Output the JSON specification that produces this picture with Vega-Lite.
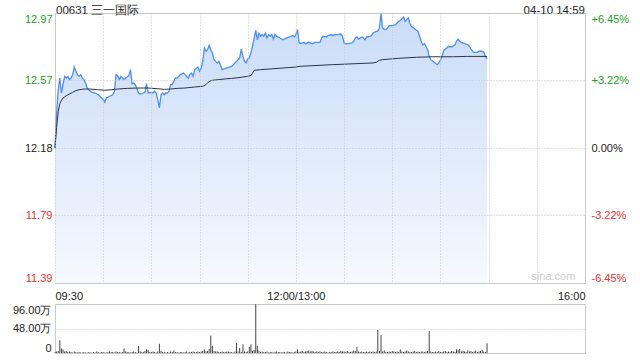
{
  "$schema": "https://vega.github.io/schema/vega-lite/v6.json",
  "background": "white",
  "padding": {"left": 11, "top": 4, "right": 5, "bottom": 0},
  "spacing": 1,
  "config": {
    "font": "Liberation Sans",
    "view": {"stroke": "#cccccc", "strokeWidth": 1},
    "axis": {"domain": false, "ticks": false, "labelFontSize": 11, "labelColor": "#333333", "gridColor": "#c4c4c4", "gridDash": [1, 2], "labelFont": "Liberation Sans"}
  },
  "datasets": {
    "price": [
      {"t": 0, "p": 12.18}, {"t": 1, "p": 12.384}, {"t": 2, "p": 12.519}, {"t": 3, "p": 12.587}, {"t": 4, "p": 12.5}, {"t": 5, "p": 12.549}, {"t": 6, "p": 12.597}, {"t": 7, "p": 12.587}, {"t": 8, "p": 12.597}, {"t": 9, "p": 12.578},
      {"t": 10, "p": 12.587}, {"t": 11, "p": 12.607}, {"t": 12, "p": 12.651}, {"t": 13, "p": 12.626}, {"t": 14, "p": 12.607}, {"t": 15, "p": 12.597}, {"t": 16, "p": 12.607}, {"t": 17, "p": 12.587}, {"t": 18, "p": 12.578}, {"t": 19, "p": 12.558},
      {"t": 20, "p": 12.529}, {"t": 21, "p": 12.519}, {"t": 22, "p": 12.51}, {"t": 23, "p": 12.504}, {"t": 25, "p": 12.5}, {"t": 27, "p": 12.49}, {"t": 29, "p": 12.471}, {"t": 30, "p": 12.461}, {"t": 31, "p": 12.446}, {"t": 32, "p": 12.471},
      {"t": 34, "p": 12.481}, {"t": 36, "p": 12.49}, {"t": 37, "p": 12.51}, {"t": 38, "p": 12.607}, {"t": 39, "p": 12.601}, {"t": 40, "p": 12.578}, {"t": 41, "p": 12.597}, {"t": 43, "p": 12.578}, {"t": 44, "p": 12.587}, {"t": 46, "p": 12.601},
      {"t": 47, "p": 12.636}, {"t": 48, "p": 12.554}, {"t": 49, "p": 12.558}, {"t": 50, "p": 12.549}, {"t": 52, "p": 12.5}, {"t": 53, "p": 12.494}, {"t": 55, "p": 12.5}, {"t": 56, "p": 12.504}, {"t": 57, "p": 12.554}, {"t": 58, "p": 12.5},
      {"t": 60, "p": 12.504}, {"t": 61, "p": 12.5}, {"t": 62, "p": 12.51}, {"t": 63, "p": 12.5}, {"t": 64, "p": 12.461}, {"t": 65, "p": 12.413}, {"t": 66, "p": 12.49}, {"t": 67, "p": 12.5}, {"t": 68, "p": 12.49}, {"t": 69, "p": 12.5},
      {"t": 70, "p": 12.5}, {"t": 71, "p": 12.51}, {"t": 72, "p": 12.549}, {"t": 73, "p": 12.549}, {"t": 74, "p": 12.568}, {"t": 75, "p": 12.587}, {"t": 76, "p": 12.587}, {"t": 77, "p": 12.597}, {"t": 78, "p": 12.607}, {"t": 80, "p": 12.616},
      {"t": 81, "p": 12.607}, {"t": 82, "p": 12.597}, {"t": 83, "p": 12.587}, {"t": 84, "p": 12.607}, {"t": 85, "p": 12.616}, {"t": 86, "p": 12.597}, {"t": 87, "p": 12.636}, {"t": 89, "p": 12.651}, {"t": 90, "p": 12.626}, {"t": 91, "p": 12.646},
      {"t": 92, "p": 12.684}, {"t": 93, "p": 12.762}, {"t": 94, "p": 12.743}, {"t": 95, "p": 12.752}, {"t": 96, "p": 12.777}, {"t": 97, "p": 12.752}, {"t": 98, "p": 12.733}, {"t": 99, "p": 12.694}, {"t": 100, "p": 12.684}, {"t": 101, "p": 12.675},
      {"t": 102, "p": 12.684}, {"t": 103, "p": 12.665}, {"t": 104, "p": 12.636}, {"t": 105, "p": 12.64}, {"t": 107, "p": 12.646}, {"t": 110, "p": 12.655}, {"t": 111, "p": 12.665}, {"t": 112, "p": 12.675}, {"t": 114, "p": 12.694}, {"t": 115, "p": 12.704},
      {"t": 116, "p": 12.756}, {"t": 117, "p": 12.713}, {"t": 118, "p": 12.684}, {"t": 119, "p": 12.675}, {"t": 120, "p": 12.698}, {"t": 121, "p": 12.704}, {"t": 122, "p": 12.733}, {"t": 123, "p": 12.772}, {"t": 124, "p": 12.82}, {"t": 125, "p": 12.865},
      {"t": 126, "p": 12.81}, {"t": 127, "p": 12.849}, {"t": 128, "p": 12.83}, {"t": 129, "p": 12.84}, {"t": 130, "p": 12.83}, {"t": 131, "p": 12.849}, {"t": 132, "p": 12.82}, {"t": 133, "p": 12.84}, {"t": 134, "p": 12.83}, {"t": 135, "p": 12.84},
      {"t": 136, "p": 12.814}, {"t": 137, "p": 12.84}, {"t": 138, "p": 12.83}, {"t": 140, "p": 12.82}, {"t": 142, "p": 12.81}, {"t": 144, "p": 12.82}, {"t": 146, "p": 12.826}, {"t": 148, "p": 12.834}, {"t": 149, "p": 12.826}, {"t": 150, "p": 12.84},
      {"t": 151, "p": 12.869}, {"t": 152, "p": 12.795}, {"t": 153, "p": 12.787}, {"t": 155, "p": 12.795}, {"t": 156, "p": 12.787}, {"t": 158, "p": 12.795}, {"t": 160, "p": 12.787}, {"t": 162, "p": 12.795}, {"t": 165, "p": 12.795}, {"t": 166, "p": 12.82},
      {"t": 167, "p": 12.83}, {"t": 169, "p": 12.826}, {"t": 170, "p": 12.834}, {"t": 172, "p": 12.84}, {"t": 173, "p": 12.834}, {"t": 174, "p": 12.84}, {"t": 176, "p": 12.84}, {"t": 178, "p": 12.843}, {"t": 179, "p": 12.83}, {"t": 180, "p": 12.791},
      {"t": 181, "p": 12.787}, {"t": 183, "p": 12.787}, {"t": 185, "p": 12.791}, {"t": 186, "p": 12.801}, {"t": 187, "p": 12.82}, {"t": 188, "p": 12.826}, {"t": 189, "p": 12.814}, {"t": 191, "p": 12.826}, {"t": 192, "p": 12.82}, {"t": 193, "p": 12.81},
      {"t": 194, "p": 12.826}, {"t": 195, "p": 12.826}, {"t": 196, "p": 12.83}, {"t": 197, "p": 12.834}, {"t": 198, "p": 12.849}, {"t": 200, "p": 12.859}, {"t": 201, "p": 12.859}, {"t": 202, "p": 12.878}, {"t": 203, "p": 12.962}, {"t": 204, "p": 12.878},
      {"t": 205, "p": 12.872}, {"t": 206, "p": 12.869}, {"t": 207, "p": 12.878}, {"t": 208, "p": 12.892}, {"t": 210, "p": 12.892}, {"t": 212, "p": 12.898}, {"t": 213, "p": 12.907}, {"t": 214, "p": 12.917}, {"t": 215, "p": 12.923}, {"t": 216, "p": 12.931},
      {"t": 217, "p": 12.942}, {"t": 218, "p": 12.917}, {"t": 219, "p": 12.927}, {"t": 220, "p": 12.937}, {"t": 221, "p": 12.903}, {"t": 222, "p": 12.888}, {"t": 224, "p": 12.872}, {"t": 225, "p": 12.865}, {"t": 226, "p": 12.859}, {"t": 227, "p": 12.83},
      {"t": 228, "p": 12.801}, {"t": 229, "p": 12.781}, {"t": 230, "p": 12.787}, {"t": 231, "p": 12.772}, {"t": 232, "p": 12.752}, {"t": 233, "p": 12.713}, {"t": 234, "p": 12.694}, {"t": 235, "p": 12.688}, {"t": 236, "p": 12.679}, {"t": 238, "p": 12.665},
      {"t": 239, "p": 12.675}, {"t": 240, "p": 12.694}, {"t": 241, "p": 12.713}, {"t": 242, "p": 12.748}, {"t": 244, "p": 12.762}, {"t": 245, "p": 12.772}, {"t": 247, "p": 12.768}, {"t": 249, "p": 12.781}, {"t": 250, "p": 12.801}, {"t": 251, "p": 12.814},
      {"t": 252, "p": 12.801}, {"t": 253, "p": 12.795}, {"t": 255, "p": 12.787}, {"t": 257, "p": 12.781}, {"t": 258, "p": 12.772}, {"t": 259, "p": 12.756}, {"t": 260, "p": 12.743}, {"t": 261, "p": 12.737}, {"t": 263, "p": 12.737}, {"t": 264, "p": 12.743},
      {"t": 266, "p": 12.743}, {"t": 267, "p": 12.737}, {"t": 268, "p": 12.713}, {"t": 269, "p": 12.698}
    ],
    "avg": [
      {"t": 0, "a": 12.18}, {"t": 1, "a": 12.3}, {"t": 2, "a": 12.39}, {"t": 3, "a": 12.438}, {"t": 4, "a": 12.457}, {"t": 5, "a": 12.471}, {"t": 7, "a": 12.484}, {"t": 9, "a": 12.494}, {"t": 11, "a": 12.504}, {"t": 13, "a": 12.514},
      {"t": 15, "a": 12.519}, {"t": 18, "a": 12.523}, {"t": 22, "a": 12.523}, {"t": 27, "a": 12.519}, {"t": 31, "a": 12.516}, {"t": 35, "a": 12.519}, {"t": 39, "a": 12.523}, {"t": 45, "a": 12.527}, {"t": 51, "a": 12.529}, {"t": 58, "a": 12.529},
      {"t": 64, "a": 12.525}, {"t": 68, "a": 12.521}, {"t": 72, "a": 12.523}, {"t": 76, "a": 12.527}, {"t": 81, "a": 12.529}, {"t": 87, "a": 12.535}, {"t": 92, "a": 12.539}, {"t": 94, "a": 12.549}, {"t": 96, "a": 12.568}, {"t": 98, "a": 12.574},
      {"t": 102, "a": 12.578}, {"t": 106, "a": 12.582}, {"t": 110, "a": 12.585}, {"t": 114, "a": 12.589}, {"t": 120, "a": 12.597}, {"t": 122, "a": 12.601}, {"t": 123, "a": 12.616}, {"t": 124, "a": 12.632}, {"t": 128, "a": 12.636}, {"t": 134, "a": 12.64},
      {"t": 150, "a": 12.651}, {"t": 152, "a": 12.655}, {"t": 173, "a": 12.665}, {"t": 198, "a": 12.675}, {"t": 200, "a": 12.679}, {"t": 202, "a": 12.69}, {"t": 204, "a": 12.694}, {"t": 214, "a": 12.702}, {"t": 225, "a": 12.708}, {"t": 235, "a": 12.711},
      {"t": 248, "a": 12.711}, {"t": 256, "a": 12.713}, {"t": 269, "a": 12.713}
    ],
    "vol": [
      {"t": 0, "v": 2}, {"t": 1, "v": 3}, {"t": 2, "v": 4}, {"t": 3, "v": 25}, {"t": 4, "v": 9}, {"t": 5, "v": 7}, {"t": 6, "v": 3}, {"t": 7, "v": 4}, {"t": 8, "v": 2}, {"t": 9, "v": 3},
      {"t": 10, "v": 2}, {"t": 11, "v": 1}, {"t": 12, "v": 3}, {"t": 13, "v": 2}, {"t": 14, "v": 1}, {"t": 15, "v": 2}, {"t": 16, "v": 1}, {"t": 17, "v": 1}, {"t": 18, "v": 2}, {"t": 19, "v": 1},
      {"t": 20, "v": 1}, {"t": 21, "v": 2}, {"t": 22, "v": 1}, {"t": 23, "v": 1}, {"t": 24, "v": 2}, {"t": 25, "v": 1}, {"t": 26, "v": 3}, {"t": 27, "v": 2}, {"t": 28, "v": 1}, {"t": 29, "v": 2},
      {"t": 30, "v": 2}, {"t": 31, "v": 1}, {"t": 32, "v": 1}, {"t": 33, "v": 2}, {"t": 34, "v": 3}, {"t": 35, "v": 2}, {"t": 36, "v": 2}, {"t": 37, "v": 1}, {"t": 38, "v": 3}, {"t": 39, "v": 2},
      {"t": 40, "v": 2}, {"t": 41, "v": 1}, {"t": 42, "v": 2}, {"t": 43, "v": 9}, {"t": 44, "v": 3}, {"t": 45, "v": 2}, {"t": 46, "v": 2}, {"t": 47, "v": 1}, {"t": 48, "v": 2}, {"t": 49, "v": 3},
      {"t": 50, "v": 2}, {"t": 51, "v": 1}, {"t": 52, "v": 14}, {"t": 53, "v": 3}, {"t": 54, "v": 2}, {"t": 55, "v": 2}, {"t": 56, "v": 4}, {"t": 57, "v": 7}, {"t": 58, "v": 6}, {"t": 59, "v": 2},
      {"t": 60, "v": 2}, {"t": 61, "v": 3}, {"t": 62, "v": 2}, {"t": 63, "v": 1}, {"t": 64, "v": 3}, {"t": 65, "v": 18}, {"t": 66, "v": 4}, {"t": 67, "v": 2}, {"t": 68, "v": 2}, {"t": 69, "v": 1},
      {"t": 70, "v": 2}, {"t": 71, "v": 1}, {"t": 72, "v": 3}, {"t": 73, "v": 2}, {"t": 74, "v": 5}, {"t": 75, "v": 2}, {"t": 76, "v": 2}, {"t": 77, "v": 1}, {"t": 78, "v": 2}, {"t": 79, "v": 2},
      {"t": 80, "v": 1}, {"t": 81, "v": 2}, {"t": 82, "v": 3}, {"t": 83, "v": 1}, {"t": 84, "v": 2}, {"t": 85, "v": 2}, {"t": 86, "v": 3}, {"t": 87, "v": 2}, {"t": 88, "v": 2}, {"t": 89, "v": 3},
      {"t": 90, "v": 2}, {"t": 91, "v": 3}, {"t": 92, "v": 4}, {"t": 93, "v": 7}, {"t": 94, "v": 3}, {"t": 95, "v": 4}, {"t": 96, "v": 8}, {"t": 97, "v": 34}, {"t": 98, "v": 14}, {"t": 99, "v": 4},
      {"t": 100, "v": 3}, {"t": 101, "v": 3}, {"t": 102, "v": 2}, {"t": 103, "v": 2}, {"t": 104, "v": 3}, {"t": 105, "v": 2}, {"t": 106, "v": 2}, {"t": 107, "v": 3}, {"t": 108, "v": 3}, {"t": 109, "v": 2},
      {"t": 110, "v": 2}, {"t": 111, "v": 1}, {"t": 112, "v": 3}, {"t": 113, "v": 20}, {"t": 114, "v": 3}, {"t": 115, "v": 10}, {"t": 116, "v": 2}, {"t": 117, "v": 17}, {"t": 118, "v": 3}, {"t": 119, "v": 2},
      {"t": 120, "v": 3}, {"t": 121, "v": 12}, {"t": 122, "v": 17}, {"t": 123, "v": 4}, {"t": 124, "v": 6}, {"t": 125, "v": 96}, {"t": 126, "v": 14}, {"t": 127, "v": 5}, {"t": 128, "v": 2}, {"t": 129, "v": 3},
      {"t": 130, "v": 2}, {"t": 131, "v": 2}, {"t": 132, "v": 3}, {"t": 133, "v": 1}, {"t": 134, "v": 2}, {"t": 135, "v": 2}, {"t": 136, "v": 1}, {"t": 137, "v": 2}, {"t": 138, "v": 3}, {"t": 139, "v": 2},
      {"t": 140, "v": 2}, {"t": 141, "v": 1}, {"t": 142, "v": 2}, {"t": 143, "v": 2}, {"t": 144, "v": 1}, {"t": 145, "v": 3}, {"t": 146, "v": 2}, {"t": 147, "v": 2}, {"t": 148, "v": 1}, {"t": 149, "v": 2},
      {"t": 150, "v": 3}, {"t": 151, "v": 7}, {"t": 152, "v": 2}, {"t": 153, "v": 3}, {"t": 154, "v": 4}, {"t": 155, "v": 2}, {"t": 156, "v": 3}, {"t": 157, "v": 4}, {"t": 158, "v": 5}, {"t": 159, "v": 3},
      {"t": 160, "v": 4}, {"t": 161, "v": 3}, {"t": 162, "v": 2}, {"t": 163, "v": 3}, {"t": 164, "v": 2}, {"t": 165, "v": 3}, {"t": 166, "v": 2}, {"t": 167, "v": 2}, {"t": 168, "v": 3}, {"t": 169, "v": 2},
      {"t": 170, "v": 1}, {"t": 171, "v": 2}, {"t": 172, "v": 2}, {"t": 173, "v": 3}, {"t": 174, "v": 2}, {"t": 175, "v": 2}, {"t": 176, "v": 3}, {"t": 177, "v": 2}, {"t": 178, "v": 4}, {"t": 179, "v": 3},
      {"t": 180, "v": 3}, {"t": 181, "v": 2}, {"t": 182, "v": 4}, {"t": 183, "v": 2}, {"t": 184, "v": 2}, {"t": 185, "v": 3}, {"t": 186, "v": 5}, {"t": 187, "v": 4}, {"t": 188, "v": 12}, {"t": 189, "v": 3},
      {"t": 190, "v": 2}, {"t": 191, "v": 3}, {"t": 192, "v": 2}, {"t": 193, "v": 2}, {"t": 194, "v": 3}, {"t": 195, "v": 2}, {"t": 196, "v": 3}, {"t": 197, "v": 2}, {"t": 198, "v": 3}, {"t": 199, "v": 2},
      {"t": 200, "v": 3}, {"t": 201, "v": 45}, {"t": 202, "v": 4}, {"t": 203, "v": 35}, {"t": 204, "v": 3}, {"t": 205, "v": 5}, {"t": 206, "v": 2}, {"t": 207, "v": 2}, {"t": 208, "v": 3}, {"t": 209, "v": 2},
      {"t": 210, "v": 4}, {"t": 211, "v": 3}, {"t": 212, "v": 2}, {"t": 213, "v": 3}, {"t": 214, "v": 2}, {"t": 215, "v": 7}, {"t": 216, "v": 3}, {"t": 217, "v": 2}, {"t": 218, "v": 3}, {"t": 219, "v": 5},
      {"t": 220, "v": 3}, {"t": 221, "v": 2}, {"t": 222, "v": 2}, {"t": 223, "v": 3}, {"t": 224, "v": 4}, {"t": 225, "v": 2}, {"t": 226, "v": 3}, {"t": 227, "v": 2}, {"t": 228, "v": 3}, {"t": 229, "v": 3},
      {"t": 230, "v": 2}, {"t": 231, "v": 3}, {"t": 232, "v": 4}, {"t": 233, "v": 43}, {"t": 234, "v": 3}, {"t": 235, "v": 2}, {"t": 236, "v": 2}, {"t": 237, "v": 3}, {"t": 238, "v": 2}, {"t": 239, "v": 4},
      {"t": 240, "v": 2}, {"t": 241, "v": 2}, {"t": 242, "v": 3}, {"t": 243, "v": 4}, {"t": 244, "v": 2}, {"t": 245, "v": 3}, {"t": 246, "v": 2}, {"t": 247, "v": 4}, {"t": 248, "v": 3}, {"t": 249, "v": 2},
      {"t": 250, "v": 7}, {"t": 251, "v": 6}, {"t": 252, "v": 8}, {"t": 253, "v": 3}, {"t": 254, "v": 4}, {"t": 255, "v": 3}, {"t": 256, "v": 2}, {"t": 257, "v": 5}, {"t": 258, "v": 3}, {"t": 259, "v": 4},
      {"t": 260, "v": 2}, {"t": 261, "v": 3}, {"t": 262, "v": 5}, {"t": 263, "v": 2}, {"t": 264, "v": 3}, {"t": 265, "v": 4}, {"t": 266, "v": 6}, {"t": 267, "v": 3}, {"t": 268, "v": 2}, {"t": 269, "v": 19}
    ]
  },
  "vconcat": [
    {
      "width": 530,
      "height": 270,
      "resolve": {"scale": {"y": "independent"}},
      "layer": [
        {
          "data": {"name": "price"},
          "mark": {"type": "area", "line": false, "color": {"x1": 0, "y1": 0, "x2": 0, "y2": 1, "gradient": "linear", "stops": [{"offset": 0, "color": "#c9dcf8"}, {"offset": 1, "color": "#f6f9fe"}]}},
          "encoding": {
            "x": {"field": "t", "type": "quantitative", "title": null, "scale": {"domain": [0, 330], "nice": false, "zero": false},
              "axis": {"values": [0, 30, 60, 90, 120, 150, 180, 210, 240, 270, 300, 330], "grid": true, "zindex": 1, "labelFlush": true, "labelOverlap": false, "labelPadding": 7, "labelColor": "#222222",
                "labelExpr": "datum.value == 0 ? '09:30' : datum.value == 150 ? '12:00/13:00' : datum.value == 330 ? '16:00' : ''"}},
            "y": {"field": "p", "type": "quantitative", "title": null, "scale": {"domain": [11.3944, 12.9656], "nice": false, "zero": false},
              "axis": {"orient": "left", "values": [11.3944, 11.7872, 12.18, 12.5728, 12.9656], "grid": true, "zindex": 1, "labelFlush": true, "labelPadding": 3,
                "labelExpr": "format(datum.value, '.2f')",
                "labelColor": {"condition": [{"test": "datum.value > 12.19", "value": "#1aa31a"}, {"test": "datum.value < 12.17", "value": "#f23030"}], "value": "#222222"}}},
            "y2": {"datum": 11.3944}
          }
        },
        {
          "data": {"name": "price"},
          "mark": {"type": "line", "color": "#4d8ef0", "strokeWidth": 1.3},
          "encoding": {
            "x": {"field": "t", "type": "quantitative", "title": null},
            "y": {"field": "p", "type": "quantitative", "title": null, "scale": {"domain": [11.3944, 12.9656], "nice": false, "zero": false}, "axis": null}
          }
        },
        {
          "data": {"name": "avg"},
          "mark": {"type": "line", "color": "#2c3446", "strokeWidth": 1},
          "encoding": {
            "x": {"field": "t", "type": "quantitative", "title": null},
            "y": {"field": "a", "type": "quantitative", "title": null, "scale": {"domain": [11.3944, 12.9656], "nice": false, "zero": false},
              "axis": {"orient": "right", "values": [11.3944, 11.7872, 12.18, 12.5728, 12.9656], "grid": false, "labelFlush": true, "labelPadding": 6,
                "labelExpr": "datum.value > 12.9 ? '+6.45%' : datum.value > 12.5 ? '+3.22%' : datum.value > 12.1 ? '0.00%' : datum.value > 11.7 ? '-3.22%' : '-6.45%'",
                "labelColor": {"condition": [{"test": "datum.value > 12.19", "value": "#1aa31a"}, {"test": "datum.value < 12.17", "value": "#f23030"}], "value": "#222222"}}}
          }
        },
        {
          "data": {"values": [{"label": "04-10 14:59"}]},
          "mark": {"type": "text", "align": "right", "baseline": "bottom", "dy": 3, "fontSize": 11.5, "color": "#222222"},
          "encoding": {
            "x": {"datum": 330, "type": "quantitative"},
            "y": {"datum": 12.9656, "type": "quantitative", "scale": {"domain": [11.3944, 12.9656], "nice": false, "zero": false}, "axis": null},
            "text": {"field": "label"}
          }
        },
        {
          "data": {"values": [{"label": "00631 三一国际"}]},
          "mark": {"type": "text", "align": "left", "baseline": "bottom", "dy": 3, "dx": 1, "fontSize": 11.5, "color": "#222222"},
          "encoding": {
            "x": {"datum": 0, "type": "quantitative"},
            "y": {"datum": 12.9656, "type": "quantitative", "scale": {"domain": [11.3944, 12.9656], "nice": false, "zero": false}, "axis": null},
            "text": {"field": "label"}
          }
        },
        {
          "data": {"values": [{"label": "sina.com"}]},
          "mark": {"type": "text", "align": "right", "baseline": "bottom", "dy": -1, "fontSize": 11, "color": "#cccccc"},
          "encoding": {
            "x": {"datum": 324, "type": "quantitative"},
            "y": {"datum": 11.3944, "type": "quantitative", "scale": {"domain": [11.3944, 12.9656], "nice": false, "zero": false}, "axis": null},
            "text": {"field": "label"}
          }
        }
      ]
    },
    {
      "width": 530,
      "height": 49,
      "data": {"name": "vol"},
      "mark": {"type": "rule", "color": "#444444", "strokeWidth": 1},
      "encoding": {
        "x": {"field": "t", "type": "quantitative", "title": null, "scale": {"domain": [0, 330], "nice": false, "zero": false}, "axis": null},
        "y": {"field": "v", "type": "quantitative", "title": null, "scale": {"domain": [0, 96], "nice": false},
          "axis": {"values": [0, 48, 96], "grid": true, "zindex": 1, "labelFlush": true, "labelPadding": 4, "labelColor": "#222222",
            "labelExpr": "datum.value == 0 ? '0' : format(datum.value, '.2f') + '万'"}},
        "y2": {"datum": 0}
      }
    }
  ]
}
